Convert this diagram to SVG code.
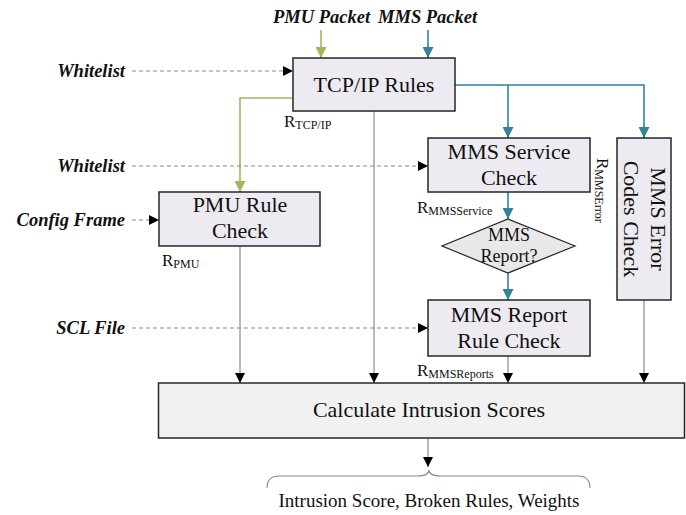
<svg xmlns="http://www.w3.org/2000/svg" width="686" height="515" viewBox="0 0 686 515">
  <style>
    .box { fill: #EDEAF1; stroke: #262626; stroke-width: 1.5; }
    .calc { fill: #F1F1F1; stroke: #262626; stroke-width: 1.5; }
    .dia { fill: #E8E8E8; stroke: #262626; stroke-width: 1.2; }
    .lbl { font-family: "Liberation Serif", "Times New Roman", serif; font-size: 22px; fill: #111; text-anchor: middle; }
    .in { font-family: "Liberation Serif", "Times New Roman", serif; font-size: 18.5px; font-weight: bold; font-style: italic; fill: #111; }
    .r { font-family: "Liberation Serif", "Times New Roman", serif; font-size: 17px; fill: #111; }
    .sub { font-size: 12px; }
    .gray { fill: none; stroke: #8A8A8A; stroke-width: 1.2; marker-end: url(#ah); }
    .dash { fill: none; stroke: #8A8A8A; stroke-width: 1.1; stroke-dasharray: 4 3; marker-end: url(#ah); }
    .green { fill: none; stroke: #9BBB59; stroke-width: 1.6; }
    .teal { fill: none; stroke: #31849B; stroke-width: 1.6; }
  </style>
  <defs>
    <marker id="ah" viewBox="0 0 10 10" refX="10" refY="5" markerWidth="10" markerHeight="10" markerUnits="userSpaceOnUse" orient="auto">
      <path d="M0,0 L10,5 L0,10 z" fill="#000"/>
    </marker>
    <marker id="ahg" viewBox="0 0 10 10" refX="10" refY="5" markerWidth="11" markerHeight="11" markerUnits="userSpaceOnUse" orient="auto">
      <path d="M0,0 L10,5 L0,10 z" fill="#9BBB59"/>
    </marker>
    <marker id="aht" viewBox="0 0 10 10" refX="10" refY="5" markerWidth="11" markerHeight="11" markerUnits="userSpaceOnUse" orient="auto">
      <path d="M0,0 L10,5 L0,10 z" fill="#31849B"/>
    </marker>
  </defs>

  <!-- input labels -->
  <g id="inputs">
    <text class="in" x="273" y="23">PMU Packet</text>
    <text class="in" x="378" y="23">MMS Packet</text>
    <text class="in" x="125" y="77" text-anchor="end">Whitelist</text>
    <text class="in" x="125" y="172" text-anchor="end">Whitelist</text>
    <text class="in" x="125" y="226" text-anchor="end">Config Frame</text>
    <text class="in" x="125" y="334" text-anchor="end">SCL File</text>
  </g>

  <!-- connectors -->
  <g id="connectors">
    <path class="green" d="M321,30 V58" marker-end="url(#ahg)"/>
    <path class="teal" d="M428,30 V58" marker-end="url(#aht)"/>
    <path class="green" d="M293,98 H240 V192" marker-end="url(#ahg)"/>
    <path class="teal" d="M455,85 H644 V138" marker-end="url(#aht)"/>
    <path class="teal" d="M508,85 V138" marker-end="url(#aht)"/>
    <path class="teal" d="M508,192 V219" marker-end="url(#aht)"/>
    <path class="teal" d="M508,273 V300" marker-end="url(#aht)"/>
    <path class="dash" d="M132,71 H293"/>
    <path class="dash" d="M132,166 H428"/>
    <path class="dash" d="M132,220 H159"/>
    <path class="dash" d="M132,328 H428"/>
    <path class="gray" d="M374,111 V383"/>
    <path class="gray" d="M240,246 V383"/>
    <path class="gray" d="M508,356 V383"/>
    <path class="gray" d="M644,300 V383"/>
    <path class="gray" d="M428,438 V467"/>
    <path d="M267,488 Q267,476 279,476 H417 Q429,476 429,470 Q429,476 441,476 H578 Q590,476 590,488" fill="none" stroke="#8A8A8A" stroke-width="1.1"/>
  </g>

  <g id="tcp">
    <rect class="box" x="293" y="58" width="162" height="53"/>
    <text class="lbl" x="374" y="92">TCP/IP Rules</text>
  </g>

  <g id="pmu">
    <rect class="box" x="159" y="192" width="161" height="54"/>
    <text class="lbl" x="240" y="212">PMU Rule</text>
    <text class="lbl" x="240" y="238">Check</text>
  </g>

  <g id="mmsService">
    <rect class="box" x="428" y="138" width="162" height="54"/>
    <text class="lbl" x="509" y="159">MMS Service</text>
    <text class="lbl" x="509" y="185">Check</text>
  </g>

  <g id="mmsReportDecision">
    <polygon class="dia" points="508,219 575,246 508,273 442,246"/>
    <text class="lbl" x="509" y="241" style="font-size:18px">MMS</text>
    <text class="lbl" x="509" y="262" style="font-size:18px">Report?</text>
  </g>

  <g id="mmsReport">
    <rect class="box" x="428" y="300" width="162" height="56"/>
    <text class="lbl" x="509" y="322">MMS Report</text>
    <text class="lbl" x="509" y="348">Rule Check</text>
  </g>

  <g id="mmsError">
    <rect class="box" x="617" y="138" width="54" height="162"/>
    <g transform="translate(644,219) rotate(90)">
      <text class="lbl" x="0" y="-7">MMS Error</text>
      <text class="lbl" x="0" y="20">Codes Check</text>
    </g>
  </g>

  <g id="calculate">
    <rect class="calc" x="158.5" y="383" width="526" height="55"/>
    <text class="lbl" x="429" y="417">Calculate Intrusion Scores</text>
  </g>

  <g id="output">
    <text class="lbl" x="429" y="507" style="font-size:19px">Intrusion Score, Broken Rules, Weights</text>
  </g>

  <!-- rule set labels -->
  <g id="ruleLabels">
    <text class="r" x="284" y="127">R<tspan class="sub" dy="2">TCP/IP</tspan></text>
    <text class="r" x="162" y="266">R<tspan class="sub" dy="2">PMU</tspan></text>
    <text class="r" x="417" y="213">R<tspan class="sub" dy="2">MMSService</tspan></text>
    <text class="r" x="417" y="376">R<tspan class="sub" dy="2">MMSReports</tspan></text>
    <text class="r" transform="translate(597,158) rotate(90)">R<tspan class="sub" dy="2">MMSError</tspan></text>
  </g>
</svg>
